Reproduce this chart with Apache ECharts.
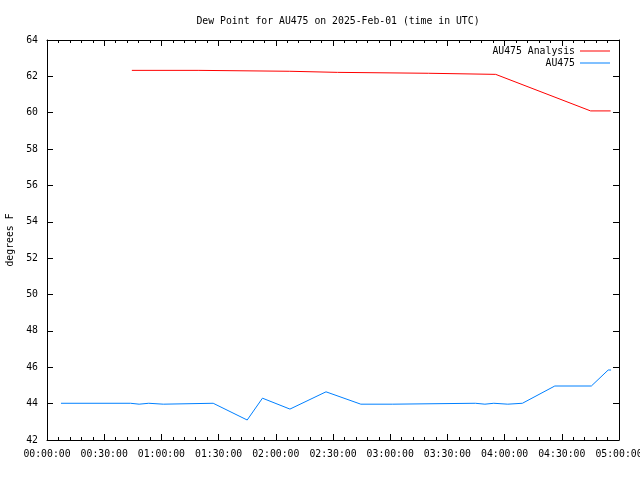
<!DOCTYPE html>
<html>
<head>
<meta charset="utf-8">
<script src="https://cdn.jsdelivr.net/npm/echarts@6/dist/echarts.min.js"></script>
<style>html,body{margin:0;padding:0;background:#fff;}#c{width:640px;height:480px;}</style>
</head>
<body>
<div id="c"></div>
<script>
var titleText = 'Dew Point for AU475 on 2025-Feb-01 (time in UTC)';
var yAxisName = 'degrees F';
var analysisName = 'AU475 Analysis';
var obsName = 'AU475';

var analysisTimes = ['00:44:30','01:19:40','01:20:10','02:07:20','02:07:50','02:32:20','02:32:50','03:20:10','03:20:40','03:55:20','04:45:06','04:55:36'];
var analysisValues = [62.33,62.33,62.28,62.28,62.22,62.22,62.17,62.17,62.11,62.11,60.1,60.1];

var obsTimes = ['00:07:20','00:43:50','00:44:40','00:48:20','00:48:50','00:53:20','00:53:50','01:01:00','01:01:30','01:27:10','01:45:00','01:53:00','02:07:25','02:26:20','02:44:35','03:01:20','03:01:50','03:44:40','03:45:10','03:49:40','03:50:10','03:54:20','03:54:50','04:01:40','04:02:10','04:09:20','04:26:20','04:45:30','04:46:00','04:54:20','04:55:50'];
var obsValues = [44.02,44.02,43.97,43.97,44.02,44.02,43.97,43.97,44.02,44.02,43.1,44.3,43.7,44.65,43.97,43.97,44.02,44.02,43.97,43.97,44.02,44.02,43.97,43.97,44.02,44.02,44.97,44.97,44.93,45.85,45.85];

var yMin = 42, yMax = 64, yStep = 2;
var xMin = 0, xMax = 300, xStep = 30; // minutes after 00:00:00 UTC

function toMin(s){ var p = s.split(':'); return (+p[0])*60 + (+p[1]) + (+p[2])/60; }
function pad(n){ return (n<10?'0':'') + n; }
function fmt(v){ var h = Math.floor(v/60), m = Math.round(v - h*60); return pad(h)+':'+pad(m)+':00'; }
function pairs(ts, vs){ return ts.map(function(t,i){ return [toMin(t), vs[i]]; }); }

var FONT = 'DejaVu Sans Mono';
var chart = echarts.init(document.getElementById('c'), null, {renderer:'canvas'});
var tickCommon = {show:true, inside:true, length:6, lineStyle:{color:'#000', width:1}};
var minorCommon = {show:true, splitNumber:5, length:3, lineStyle:{color:'#000', width:1}};
chart.setOption({
  animation:false,
  backgroundColor:'#fff',
  title:{text:titleText, left:333, textAlign:'center', top:11,
    textStyle:{fontFamily:FONT, fontSize:9.8, fontWeight:'normal', color:'#000'}},
  legend:{orient:'vertical', right:25, top:41, align:'right', itemGap:2,
    itemWidth:30, itemHeight:1, icon:'rect',
    textStyle:{fontFamily:FONT, fontSize:9.8, color:'#000'},
    data:[analysisName, obsName]},
  grid:{left:47, right:21, top:40, bottom:40, show:false, containLabel:false, outerBoundsMode:'none'},
  xAxis:[{type:'value', min:xMin, max:xMax, interval:xStep, position:'bottom',
    axisLine:{show:true, onZero:false, lineStyle:{color:'#000', width:1}},
    axisTick:tickCommon, minorTick:minorCommon, splitLine:{show:false},
    axisLabel:{formatter:fmt, fontFamily:FONT, fontSize:9.8, color:'#000', margin:9, showMaxLabel:true, showMinLabel:true}},
    {type:'value', min:xMin, max:xMax, interval:xStep, position:'top',
    axisLine:{show:true, onZero:false, lineStyle:{color:'#000', width:1}},
    axisTick:tickCommon, minorTick:minorCommon, splitLine:{show:false},
    axisLabel:{show:false}}],
  yAxis:[{type:'value', min:yMin, max:yMax, interval:yStep, position:'left',
    name:yAxisName, nameLocation:'middle', nameGap:32, nameRotate:90,
    nameTextStyle:{fontFamily:FONT, fontSize:9.8, color:'#000'},
    axisLine:{show:true, onZero:false, lineStyle:{color:'#000', width:1}},
    axisTick:tickCommon, splitLine:{show:false},
    axisLabel:{fontFamily:FONT, fontSize:9.8, color:'#000', margin:9}},
    {type:'value', min:yMin, max:yMax, interval:yStep, position:'right',
    axisLine:{show:true, onZero:false, lineStyle:{color:'#000', width:1}},
    axisTick:tickCommon, splitLine:{show:false}, axisLabel:{show:false}}],
  series:[
    {name:analysisName, type:'line', data:pairs(analysisTimes, analysisValues), showSymbol:false, symbol:'none',
      lineStyle:{color:'#ff0000', width:1}, itemStyle:{color:'#ff0000'}},
    {name:obsName, type:'line', data:pairs(obsTimes, obsValues), showSymbol:false, symbol:'none',
      lineStyle:{color:'#0080ff', width:1}, itemStyle:{color:'#0080ff'}}
  ]
});
</script>
</body>
</html>
